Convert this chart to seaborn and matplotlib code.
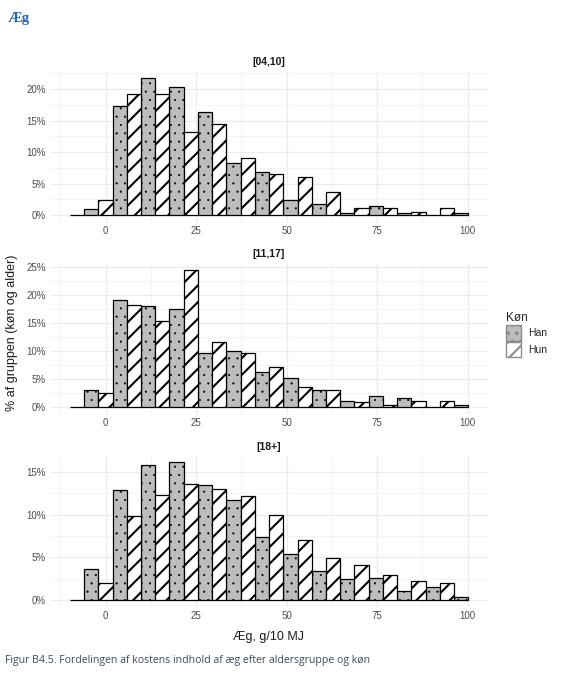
import numpy as np
import pandas as pd
import matplotlib
matplotlib.use("Agg")
import matplotlib.pyplot as plt
from matplotlib.patches import Patch
from matplotlib.ticker import PercentFormatter, MultipleLocator
import seaborn as sns

# Bin layout (g/10 MJ)
bin_start = -9.9
bin_width = 7.86
n_bins = 14
bin_centers = [-6.0, 1.9, 9.7, 17.6, 25.4, 33.3, 41.2, 49.0, 56.9, 64.7, 72.6, 80.5, 88.3, 96.2]

age_groups = ["[04,10]", "[11,17]", "[18+]"]

# percent of group per bin
han_04_10 = [0.9, 17.3, 21.8, 20.3, 16.3, 8.3, 6.9, 2.4, 1.85, 0.4, 1.5, 0.4, 0.0, 0.4]
hun_04_10 = [0.0, 2.4, 19.3, 19.3, 13.2, 14.4, 9.0, 6.5, 6.0, 3.6, 1.2, 1.2, 0.5, 1.2]

han_11_17 = [3.1, 19.1, 18.05, 17.5, 9.6, 10.1, 6.35, 5.3, 3.1, 1.1, 2.1, 1.6, 0.0, 0.5]
hun_11_17 = [0.0, 2.6, 18.3, 15.3, 24.5, 11.7, 9.7, 7.1, 3.6, 3.0, 1.0, 0.5, 1.1, 1.1]

han_18 = [3.7, 12.9, 15.8, 16.1, 13.5, 11.7, 7.4, 5.4, 3.4, 2.45, 2.6, 1.1, 1.6, 0.4]
hun_18 = [0.0, 2.0, 9.8, 12.3, 13.6, 13.0, 12.2, 9.9, 7.0, 4.9, 4.1, 2.95, 2.25, 2.0]

series = {
    "[04,10]": (han_04_10, hun_04_10),
    "[11,17]": (han_11_17, hun_11_17),
    "[18+]": (han_18, hun_18),
}

rows = []
for grp in age_groups:
    han, hun = series[grp]
    for c, h, w in zip(bin_centers, han, hun):
        rows.append({"alder": grp, "koen": "Han", "x": c, "pct": h})
        rows.append({"alder": grp, "koen": "Hun", "x": c, "pct": w})
df = pd.DataFrame(rows)

bin_range = (bin_start, bin_start + n_bins * bin_width)

sns.set_style("whitegrid")
plt.rcParams["font.family"] = ["Liberation Sans", "DejaVu Sans"]
plt.rcParams["hatch.color"] = "black"
plt.rcParams["hatch.linewidth"] = 1.5

han_col = "#bdbdbd"
hun_col = "white"


def style_patch(p, dotted):
    # dots for Han, thick stripes for Hun
    if dotted:
        p.set_hatch("..")
        if hasattr(p, "set_hatch_linewidth"):
            p.set_hatch_linewidth(0.3)
    else:
        p.set_hatch("//")
        if hasattr(p, "set_hatch_linewidth"):
            p.set_hatch_linewidth(1.5)


fig = plt.figure(figsize=(5.61, 6.80), dpi=100)
ax_boxes = [
    [0.0891, 0.6735, 0.7808, 0.2221],
    [0.0891, 0.3909, 0.7808, 0.2223],
    [0.0891, 0.1071, 0.7808, 0.2233],
]

for grp, box in zip(age_groups, ax_boxes):
    ax = fig.add_axes(box)
    sub = df[df["alder"] == grp]
    sns.histplot(data=sub, x="x", weights="pct", hue="koen", hue_order=["Hun", "Han"],
                 bins=n_bins, binrange=bin_range, multiple="dodge", shrink=1, alpha=1,
                 palette={"Han": han_col, "Hun": hun_col},
                 edgecolor="black", linewidth=0.9, legend=False, ax=ax)
    for p in ax.patches:
        style_patch(p, p.get_facecolor()[0] < 0.95)
    ymax = sub["pct"].max()
    ax.set_ylim(-0.05 * ymax, 1.05 * ymax)
    ax.set_xlim(-15.4, 105.6)
    ax.xaxis.set_major_locator(MultipleLocator(25))
    ax.xaxis.set_minor_locator(MultipleLocator(12.5))
    ax.yaxis.set_major_locator(MultipleLocator(5))
    ax.yaxis.set_minor_locator(MultipleLocator(2.5))
    ax.yaxis.set_major_formatter(PercentFormatter(100, decimals=0))
    ax.grid(which="major", color="#ebebeb", linewidth=0.9)
    ax.grid(which="minor", color="#f3f3f3", linewidth=0.6)
    ax.set_axisbelow(True)
    for s in ax.spines.values():
        s.set_visible(False)
    ax.tick_params(axis="both", which="both", length=0, labelsize=7, labelcolor="#4d4d4d", pad=3)
    ax.set_xlabel("")
    ax.set_ylabel("")
    ax.set_title(grp, fontsize=7.5, fontweight="bold", color="#1a1a1a", pad=4)

fig.text(0.479, 0.063, "Æg, g/10 MJ", ha="center", va="center", fontsize=9, color="#1a1a1a")
fig.text(0.022, 0.51, "% af gruppen (køn og alder)", rotation=90, ha="center", va="center",
         fontsize=9, color="#1a1a1a")
fig.text(0.014, 0.982, "Æg", ha="left", va="top", fontsize=10.5, fontweight="bold",
         color="#2066b0", family=["Liberation Serif", "DejaVu Serif"])
fig.text(0.009, 0.028, "Figur B4.5. Fordelingen af kostens indhold af æg efter aldersgruppe og køn",
         ha="left", va="center", fontsize=7.6, color="#3d4b5c", family=["Open Sans", "DejaVu Sans"])

h_han = Patch(facecolor=han_col, edgecolor="#8c8c8c", label="Han")
h_hun = Patch(facecolor=hun_col, edgecolor="#8c8c8c", label="Hun")
style_patch(h_han, True)
style_patch(h_hun, False)
leg = fig.legend(handles=[h_han, h_hun], title="Køn", loc="center left",
                 bbox_to_anchor=(0.885, 0.508), frameon=False, fontsize=7.5, title_fontsize=8.5,
                 handlelength=1.5, handleheight=1.9, handletextpad=0.6, labelspacing=0.1)
leg._legend_box.align = "left"

fig.savefig("out.png", dpi=100)
